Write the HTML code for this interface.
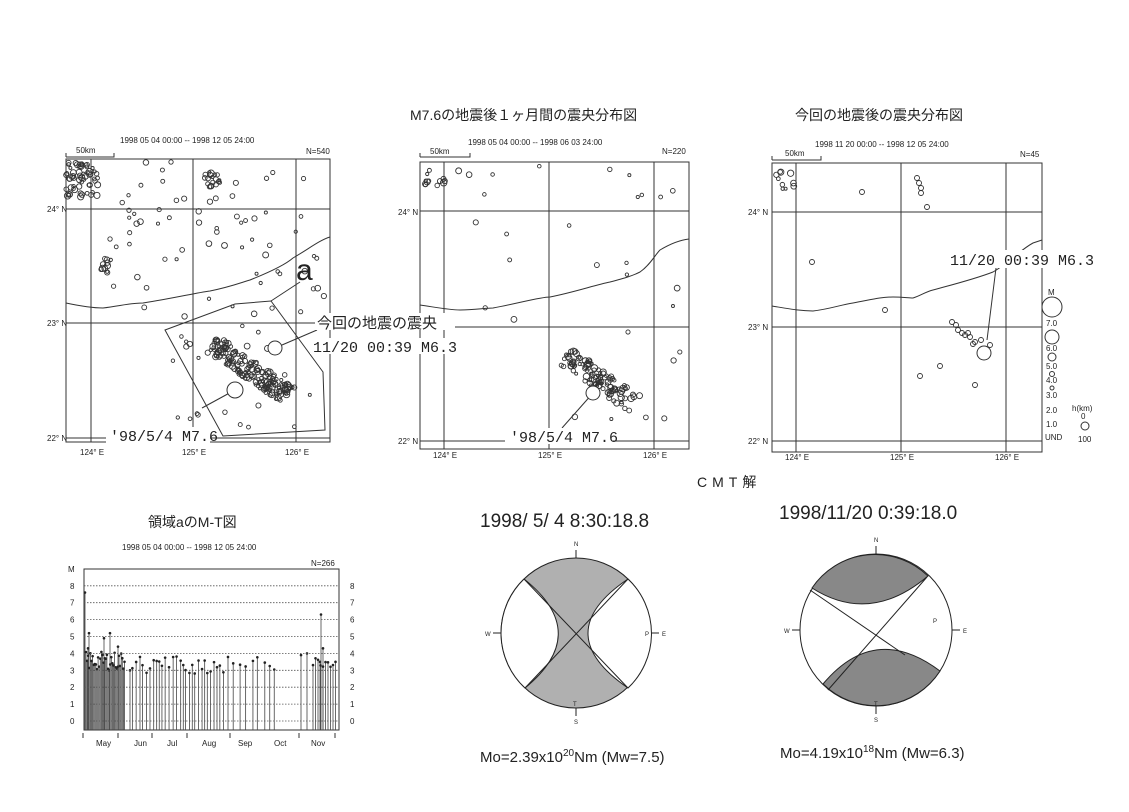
<!DOCTYPE html>
<html><head><meta charset="utf-8">
<style>
html,body{margin:0;padding:0;background:#fff;}
svg{display:block;}
text{font-family:"Liberation Sans","Noto Sans CJK JP",sans-serif;fill:#222;}
.t{font-size:14px;}
.s{font-size:8px;}
.m{font-family:"Liberation Mono","Noto Sans CJK JP",monospace;font-size:15px;}
</style></head><body>
<svg id="sv" width="1129" height="812" viewBox="0 0 1129 812" xmlns="http://www.w3.org/2000/svg">
<g fill="none" stroke="#333" stroke-width="1">
<rect x="66" y="159" width="264" height="283"/>
<line x1="66" y1="209" x2="330" y2="209"/><line x1="66" y1="323" x2="330" y2="323"/><line x1="66" y1="438" x2="330" y2="438"/>
<line x1="91" y1="159" x2="91" y2="442"/><line x1="193" y1="159" x2="193" y2="442"/><line x1="296" y1="159" x2="296" y2="442"/>
<path d="M66,303 C80,306 95,308 103,308 C120,306 130,303 143,303 C175,298 195,293 210,291 C230,287 240,283 250,280 C270,272 285,265 293,258 C310,248 320,240 330,237"/>
<path d="M165,330 L235,304 L271,301 L323,372 L325,430 L223,436 Z"/>
<line x1="300" y1="282" x2="271" y2="301"/>
<path d="M66,157 V153 M66,157 H114 V153"/>
<line x1="275" y1="348" x2="317" y2="330"/>
<line x1="235" y1="390" x2="202" y2="408"/>
<rect x="420" y="162" width="269" height="287"/>
<line x1="420" y1="211" x2="689" y2="211"/><line x1="420" y1="327" x2="689" y2="327"/><line x1="420" y1="441" x2="689" y2="441"/>
<line x1="444" y1="162" x2="444" y2="449"/><line x1="549" y1="162" x2="549" y2="449"/><line x1="654" y1="162" x2="654" y2="449"/>
<path d="M420,305 C440,308 450,310 460,310 C475,310 485,308 493,308 C520,303 540,297 550,297 C575,292 595,285 610,282 C625,278 632,276 640,272 C650,265 655,255 660,250 C670,244 680,240 689,239"/>
<path d="M420,157 V153 M420,157 H470 V153"/>
<line x1="593" y1="393" x2="562" y2="428"/>
<rect x="772" y="163" width="270" height="289"/>
<line x1="772" y1="212" x2="1042" y2="212"/><line x1="772" y1="327" x2="1042" y2="327"/><line x1="772" y1="441" x2="1042" y2="441"/>
<line x1="796" y1="163" x2="796" y2="452"/><line x1="901" y1="163" x2="901" y2="452"/><line x1="1006" y1="163" x2="1006" y2="452"/>
<path d="M772,306 C790,309 800,311 813,311 C830,309 840,305 853,303 C870,300 880,297 893,297 C903,297 908,298 913,298 C920,296 925,292 933,290 C955,284 975,279 993,272 C1010,262 1020,250 1033,243 L1042,240"/>
<path d="M772,160 V156 M772,160 H821 V156"/>
<line x1="996" y1="268" x2="987" y2="340"/>
<circle cx="1052" cy="307" r="10"/><circle cx="1052" cy="337" r="7"/><circle cx="1052" cy="357" r="4"/><circle cx="1052" cy="374" r="2.5"/><circle cx="1052" cy="388" r="2"/>
<circle cx="1085" cy="426" r="4"/>
<rect x="84" y="569" width="255" height="161"/>
</g>
<g id="dots" fill="none" stroke="#333" stroke-width="0.9"></g>
<g id="stems"></g>
<g fill="#fff" stroke="#333">
<circle cx="275" cy="348" r="7"/><circle cx="235" cy="390" r="8"/>
<circle cx="593" cy="393" r="7"/><circle cx="984" cy="353" r="7"/>
</g>
<rect x="315" y="313" width="140" height="17" fill="#fff"/>
<rect x="310" y="338" width="140" height="16" fill="#fff"/>
<rect x="106" y="427" width="104" height="16" fill="#fff"/>
<rect x="505" y="428" width="108" height="16" fill="#fff"/>
<rect x="948" y="250" width="134" height="18" fill="#fff"/>
<g>
<text x="296" y="280" style="font-size:30px">a</text>
<text x="317" y="328" style="font-size:15px">今回の地震の震央</text>
<text x="313" y="352" class="m">11/20 00:39 M6.3</text>
<text x="110" y="441" class="m">'98/5/4 M7.6</text>
<text x="510" y="442" class="m">'98/5/4 M7.6</text>
<text x="950" y="265" class="m">11/20 00:39 M6.3</text>
</g>
<text x="410" y="120" class="t">M7.6の地震後１ヶ月間の震央分布図</text>
<text x="795" y="120" class="t">今回の地震後の震央分布図</text>
<text x="148" y="527" class="t">領域aのM-T図</text>
<text x="697" y="487" class="t" style="letter-spacing:5px">CMT解</text>
<g class="s">
<text x="120" y="143" class="s">1998 05 04 00:00 -- 1998 12 05 24:00</text>
<text x="76" y="153" class="s">50km</text><text x="306" y="154" class="s">N=540</text>
<text x="47" y="212" class="s">24° N</text><text x="47" y="326" class="s">23° N</text><text x="47" y="441" class="s">22° N</text>
<text x="80" y="455" class="s">124° E</text><text x="182" y="455" class="s">125° E</text><text x="285" y="455" class="s">126° E</text>
<text x="468" y="145" class="s">1998 05 04 00:00 -- 1998 06 03 24:00</text>
<text x="430" y="154" class="s">50km</text><text x="662" y="154" class="s">N=220</text>
<text x="398" y="215" class="s">24° N</text><text x="398" y="444" class="s">22° N</text>
<text x="433" y="458" class="s">124° E</text><text x="538" y="458" class="s">125° E</text><text x="643" y="458" class="s">126° E</text>
<text x="815" y="147" class="s">1998 11 20 00:00 -- 1998 12 05 24:00</text>
<text x="785" y="156" class="s">50km</text><text x="1020" y="157" class="s">N=45</text>
<text x="748" y="215" class="s">24° N</text><text x="748" y="330" class="s">23° N</text><text x="748" y="444" class="s">22° N</text>
<text x="785" y="460" class="s">124° E</text><text x="890" y="460" class="s">125° E</text><text x="995" y="460" class="s">126° E</text>
<text x="1048" y="295" class="s">M</text>
<text x="1046" y="326" class="s">7.0</text><text x="1046" y="351" class="s">6.0</text><text x="1046" y="369" class="s">5.0</text>
<text x="1046" y="383" class="s">4.0</text><text x="1046" y="398" class="s">3.0</text><text x="1046" y="413" class="s">2.0</text>
<text x="1046" y="427" class="s">1.0</text><text x="1045" y="440" class="s">UND</text>
<text x="1072" y="411" class="s">h(km)</text><text x="1081" y="419" class="s">0</text><text x="1078" y="442" class="s">100</text>
<text x="122" y="550" class="s">1998 05 04 00:00 -- 1998 12 05 24:00</text>
<text x="311" y="566" class="s">N=266</text><text x="68" y="572" class="s">M</text>
<text x="96" y="746" class="s">May</text><text x="134" y="746" class="s">Jun</text><text x="167" y="746" class="s">Jul</text>
<text x="202" y="746" class="s">Aug</text><text x="238" y="746" class="s">Sep</text><text x="274" y="746" class="s">Oct</text><text x="311" y="746" class="s">Nov</text>
</g>
<g id="mt" stroke="#555" stroke-width="0.8" stroke-dasharray="1.5,1.5"></g>
<g id="mtl" class="s"></g>
<text x="480" y="527" style="font-size:19px">1998/ 5/ 4   8:30:18.8</text>
<text x="779" y="519" style="font-size:19px">1998/11/20   0:39:18.0</text>
<text x="480" y="762" style="font-size:15px">Mo=2.39x10<tspan dy="-6" style="font-size:10px">20</tspan><tspan dy="6">Nm (Mw=7.5)</tspan></text>
<text x="780" y="758" style="font-size:15px">Mo=4.19x10<tspan dy="-6" style="font-size:10px">18</tspan><tspan dy="6">Nm (Mw=6.3)</tspan></text>
<g stroke="#222" stroke-width="1">
<circle cx="576" cy="633" r="75" fill="#b0b0b0"/>
<path d="M524,579 Q592,633 525,688 A75 75 0 0 1 524,579 Z" fill="#fff"/>
<path d="M628,579 Q548,633 628,688 A75 75 0 0 0 628,579 Z" fill="#fff"/>
<line x1="524" y1="579" x2="628" y2="688"/><line x1="628" y1="579" x2="525" y2="688"/>
<path d="M576,558 V550 M576,708 V716 M501,633 H493 M651,633 H659"/>
<circle cx="876" cy="630" r="76" fill="#fff"/>
<path d="M812,588 Q870,625 928,576 A76 76 0 0 0 812,588 Z" fill="#888"/>
<path d="M823,684 Q875,622 940,671 A76 76 0 0 1 823,684 Z" fill="#888"/>
<line x1="810" y1="590" x2="905" y2="655"/><line x1="828" y1="690" x2="927" y2="577"/>
<path d="M876,554 V546 M876,706 V714 M800,630 H792 M952,630 H960"/>
</g>
<g style="font-size:6px">
<text x="574" y="546">N</text><text x="574" y="724">S</text><text x="485" y="636">W</text><text x="662" y="636">E</text><text x="645" y="636">P</text><text x="573" y="706">T</text>
<text x="874" y="542">N</text><text x="874" y="722">S</text><text x="784" y="633">W</text><text x="963" y="633">E</text><text x="933" y="623">P</text><text x="874" y="706">T</text>
</g>
</svg>
<script>
var NS="http://www.w3.org/2000/svg";
var seed=7;function r(){seed=(seed*9301+49297)%233280;return seed/233280;}
function el(p,n,a){var e=document.createElementNS(NS,n);for(var k in a)e.setAttribute(k,a[k]);p.appendChild(e);return e;}
var D=document.getElementById("dots");
function cl(cx,cy,sx,sy,n,rot){for(var i=0;i<n;i++){var u=(r()-0.5)*2*sx,v=(r()-0.5)*2*sy;var c=Math.cos(rot),s=Math.sin(rot);el(D,"circle",{cx:cx+u*c-v*s,cy:cy+u*s+v*c,r:1.5+r()*1.8});}}
function sc(x0,y0,x1,y1,n){for(var i=0;i<n;i++)el(D,"circle",{cx:x0+r()*(x1-x0),cy:y0+r()*(y1-y0),r:1.5+r()*1.5});}
cl(82,180,16,18,60,0);cl(212,180,8,8,18,0);sc(110,162,325,320,70);cl(250,370,45,10,170,0.6);sc(170,325,320,430,25);cl(105,265,4,8,10,0);
cl(435,178,10,10,12,0);sc(450,165,680,330,22);cl(600,380,42,10,110,0.6);sc(560,330,680,430,10);
cl(785,180,10,10,10,0);
[[812,262],[885,310],[862,192],[917,178],[919,183],[921,188],[921,193],[927,207],[952,322],[956,325],[958,330],[962,333],[965,335],[968,333],[970,337],[975,342],[973,344],[981,340],[990,345],[940,366],[920,376],[975,385]].forEach(function(p){el(D,"circle",{cx:p[0],cy:p[1],r:2.5});});
var M=document.getElementById("mt"),L=document.getElementById("mtl");
for(var k=0;k<=8;k++){var y=721-k*16.9;el(M,"line",{x1:84,y1:y,x2:339,y2:y});var t=el(L,"text",{x:70,y:y+3,"font-size":8});t.textContent=k;var t2=el(L,"text",{x:350,y:y+3,"font-size":8});t2.textContent=k;}
var S=document.getElementById("stems");
function stem(x,m){var y=721-m*16.9;el(S,"line",{x1:x,y1:730,x2:x,y2:y,stroke:"#444","stroke-width":0.8});el(S,"circle",{cx:x,cy:y,r:1.3,fill:"#222"});}
stem(85,7.6);stem(89,5.2);stem(104,4.9);stem(110,5.2);stem(88,4.3);stem(118,4.4);
for(var x=86;x<125;x+=1.1)stem(x,3+r()*1.1);
for(var x=130;x<225;x+=2.2+r()*2)stem(x,2.8+r()*1.1);
for(var x=228;x<280;x+=4+r()*4)stem(x,3+r()*0.8);
stem(301,3.9);stem(307,4);stem(320,3.5);stem(321,6.3);stem(323,4.3);for(var x=313;x<338;x+=2.5)stem(x,3.2+r()*0.6);
[83,118,152,187,230,299,335].forEach(function(x){el(S,"line",{x1:x,y1:733,x2:x,y2:738,stroke:"#333"});});
</script>
</body></html>
